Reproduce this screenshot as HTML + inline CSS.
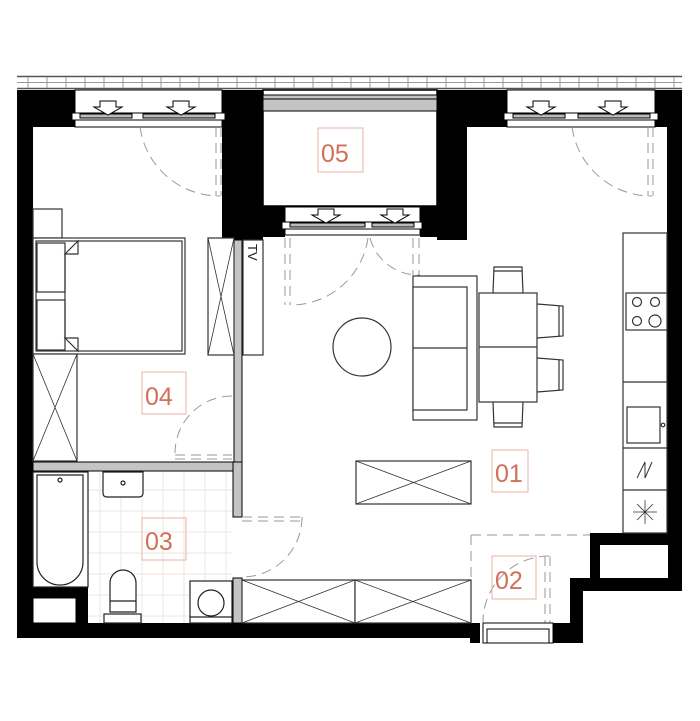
<!DOCTYPE html>
<html><head><meta charset="utf-8"><style>
html,body{margin:0;padding:0;background:#fff;width:700px;height:721px;overflow:hidden}
svg{display:block}
.lbl{font-family:"Liberation Sans",sans-serif;font-size:25px;fill:#d0705a}
</style></head><body>
<svg width="700" height="721" viewBox="0 0 700 721" xmlns="http://www.w3.org/2000/svg">
<!-- railing -->
<g stroke="#555" stroke-width="1" fill="none">
<line x1="17" y1="76.5" x2="682" y2="76.5" stroke-width="1.5"/>
<line x1="17" y1="82.5" x2="682" y2="82.5" stroke="#999"/>
<line x1="17" y1="88.5" x2="682" y2="88.5" stroke-width="1.5"/>
</g>
<g stroke="#999" stroke-width="1">
<path d="M28 77V88M47 77V88M66 77V88M85 77V88M104 77V88M123 77V88M142 77V88M161 77V88M180 77V88M199 77V88M218 77V88M237 77V88M256 77V88M275 77V88M294 77V88M313 77V88M332 77V88M351 77V88M370 77V88M389 77V88M408 77V88M427 77V88M446 77V88M465 77V88M484 77V88M503 77V88M522 77V88M541 77V88M560 77V88M579 77V88M598 77V88M617 77V88M636 77V88M655 77V88M674 77V88"/>
</g>
<!-- bath tiles -->
<g stroke="#f1e4dc" stroke-width="1">
<path d="M100 472V623M121 472V623M142 472V623M163 472V623M184 472V623M205 472V623M226 472V623"/>
<path d="M88 490H232M88 511H232M88 532H232M88 553H232M88 574H232M88 595H232M88 616H232"/>
</g>
<!-- black walls -->
<g fill="#000">
<rect x="17" y="90" width="16" height="548"/>
<rect x="17" y="90" width="58" height="37"/>
<rect x="17" y="623" width="453" height="15"/>
<rect x="222" y="90" width="41" height="150"/>
<rect x="250" y="206" width="35" height="31"/>
<rect x="437" y="90" width="30" height="150"/>
<rect x="420" y="206" width="20" height="31"/>
<rect x="467" y="90" width="40" height="37"/>
<rect x="655" y="90" width="27" height="37"/>
<rect x="667" y="90" width="15" height="455"/>
<rect x="590" y="533" width="92" height="12"/>
<rect x="590" y="533" width="10" height="47"/>
<rect x="668" y="533" width="14" height="47"/>
<rect x="570" y="578" width="112" height="13"/>
<rect x="570" y="578" width="13" height="65"/>
<rect x="553" y="623" width="30" height="20"/>
<rect x="470" y="623" width="10" height="20"/>
<rect x="33" y="587" width="55" height="36"/>
</g>
<rect x="33" y="598" width="43" height="25" fill="#fff" stroke="#000" stroke-width="1"/>
<!-- gray inner walls -->
<g fill="#c4c4c4" stroke="#000" stroke-width="1">
<rect x="234" y="240" width="8" height="225"/>
<rect x="33" y="462" width="209" height="9"/>
<rect x="233" y="462" width="9" height="55"/>
<rect x="233" y="578" width="9" height="45"/>
</g>
<!-- balcony 05 -->
<rect x="263" y="90" width="174" height="116" fill="#fff" stroke="#000" stroke-width="1.5"/>
<rect x="263" y="95" width="174" height="16" fill="#c4c4c4" stroke="#000" stroke-width="1"/>
<line x1="263" y1="99" x2="437" y2="99" stroke="#000"/>
<!-- windows -->
<g stroke="#000" stroke-width="1" fill="#fff">
<rect x="75" y="90" width="147" height="37"/>
<rect x="72" y="113" width="153" height="7"/>
<rect x="80" y="114" width="52" height="4" fill="#bbb"/>
<rect x="143" y="114" width="72" height="4" fill="#bbb"/>
<rect x="285" y="207" width="135" height="28"/>
<rect x="282" y="222" width="140" height="7"/>
<rect x="290" y="223" width="75" height="4" fill="#bbb"/>
<rect x="372" y="223" width="42" height="4" fill="#bbb"/>
<rect x="507" y="90" width="148" height="37"/>
<rect x="504" y="113" width="154" height="7"/>
<rect x="513" y="114" width="52" height="4" fill="#bbb"/>
<rect x="578" y="114" width="72" height="4" fill="#bbb"/>
</g>
<g fill="#fff" stroke="#000" stroke-width="1">
<path d="M100 101h16v6h6l-14 8-14-8h6z"/>
<path d="M173 101h16v6h6l-14 8-14-8h6z"/>
<path d="M318 209h16v6h6l-14 8-14-8h6z"/>
<path d="M387 209h16v6h6l-14 8-14-8h6z"/>
<path d="M533 101h16v6h6l-14 8-14-8h6z"/>
<path d="M605 101h16v6h6l-14 8-14-8h6z"/>
</g>
<!-- door swings -->
<g stroke="#999" stroke-width="1" fill="none" stroke-dasharray="10,6">
<path d="M140 127 A80 80 0 0 0 220 196"/>
<path d="M216 127V196M221 127V196"/>
<path d="M572 127 A80 80 0 0 0 652 196"/>
<path d="M648 127V196M653 127V196"/>
<path d="M368 238 A78 78 0 0 1 290 305"/>
<path d="M285 238V305M290 238V305"/>
<path d="M370 238 A50 50 0 0 0 420 275"/>
<path d="M413 238V275M419 238V275"/>
<path d="M232 396 A57 57 0 0 0 175 453"/>
<path d="M175 455H232M175 459H232"/>
<path d="M242 517H302M242 521H302"/>
<path d="M302 517 A60 60 0 0 1 242 577"/>
<path d="M471 535H590M471 535V623"/>
<path d="M549 556 A66 66 0 0 0 483 622"/>
<path d="M545 556V623M550 556V623"/>
</g>
<!-- entry door frame -->
<g stroke="#000" stroke-width="1" fill="none">
<rect x="483" y="623" width="70" height="20"/>
<rect x="487" y="629" width="62" height="14"/>
</g>
<!-- bedroom furniture -->
<g stroke="#333" stroke-width="1.2" fill="#fff">
<rect x="33" y="209" width="29" height="29"/>
<rect x="33" y="238" width="152" height="116"/>
<rect x="36" y="241" width="146" height="110" fill="none"/>
<rect x="37" y="243" width="28" height="49"/>
<rect x="37" y="300" width="28" height="50"/>
<path d="M65 254 L78 241 V254 Z M65 338 L78 351 V338 Z M65 254 V338" fill="none"/>
<rect x="33" y="354" width="44" height="107"/>
<path d="M33 354 L77 461 M77 354 L33 461" fill="none" stroke-width="0.8"/>
<rect x="208" y="238" width="26" height="117"/>
<path d="M208 238 L234 355 M234 238 L208 355" fill="none" stroke-width="0.8"/>
<rect x="243" y="240" width="20" height="115"/>
</g>
<text x="0" y="0" transform="translate(248,244) rotate(90)" font-family="Liberation Sans,sans-serif" font-size="13" fill="#222">TV</text>
<!-- living furniture -->
<g stroke="#333" stroke-width="1.2" fill="#fff">
<circle cx="362" cy="347" r="29"/>
<rect x="413" y="276" width="64" height="144"/>
<rect x="413" y="287" width="54" height="123"/>
<line x1="413" y1="348" x2="467" y2="348"/>
<path d="M493 293 L494 267 H522 L523 293 M494 271H522"/>
<path d="M493 402 L494 427 H522 L523 402 M494 423H522"/>
<path d="M537 304 L563 306 V336 L537 338 M559 306V336"/>
<path d="M537 358 L563 360 V390 L537 392 M559 360V390"/>
<rect x="479" y="293" width="58" height="109"/>
<line x1="479" y1="347" x2="537" y2="347"/>
<rect x="356" y="461" width="115" height="43"/>
<path d="M356 461 L471 504 M471 461 L356 504" fill="none" stroke-width="0.8"/>
<rect x="242" y="580" width="113" height="43"/>
<rect x="355" y="580" width="116" height="43"/>
<path d="M242 580 L355 623 M355 580 L242 623 M355 580 L471 623 M471 580 L355 623" fill="none" stroke-width="0.8"/>
</g>
<!-- kitchen -->
<g stroke="#333" stroke-width="1.2" fill="#fff">
<rect x="623" y="233" width="44" height="300"/>
<rect x="626" y="293" width="41" height="37"/>
<circle cx="637" cy="302" r="4.5" fill="none"/><circle cx="655" cy="302" r="4.5" fill="none"/>
<circle cx="637" cy="321" r="4.5" fill="none"/><circle cx="655" cy="321" r="6" fill="none"/>
<line x1="623" y1="382" x2="667" y2="382"/>
<rect x="627" y="407" width="33" height="36"/>
<circle cx="663" cy="425" r="1.8"/>
<line x1="623" y1="448" x2="667" y2="448"/>
<line x1="623" y1="490" x2="667" y2="490"/>
<path d="M637 478 L645 462 V478 L652 462" fill="none" stroke-width="1"/>
<path d="M645 500V524M633 512H657M637 504L653 520M653 504L637 520" fill="none" stroke-width="0.8"/>
</g>
<!-- bathroom -->
<g stroke="#222" stroke-width="1.2" fill="#fff">
<rect x="33" y="472" width="55" height="115" fill="none"/>
<path d="M37 475 H83 V562 A23 23 0 0 1 37 562 Z"/>
<circle cx="60" cy="480" r="2" fill="none"/>
<path d="M103 472 H143 V493 Q143 497 139 497 H107 Q103 497 103 493 Z"/>
<circle cx="123" cy="483" r="2" fill="none"/>
<path d="M110 612 V583 A13 13 0 0 1 136 583 V612 Z"/>
<line x1="110" y1="601" x2="136" y2="601"/>
<rect x="104" y="614" width="37" height="9"/>
<rect x="190" y="581" width="42" height="42"/>
<line x1="190" y1="617" x2="232" y2="617"/>
<circle cx="211" cy="603" r="13" fill="none"/>
</g>
<!-- labels -->
<g fill="none" stroke="#eab3a5" stroke-width="1">
<rect x="318" y="128" width="45" height="44"/>
<rect x="142" y="372" width="44" height="42"/>
<rect x="142" y="518" width="44" height="42"/>
<rect x="492" y="450" width="36" height="42"/>
<rect x="492" y="556" width="44" height="43"/>
</g>
<text class="lbl" x="321" y="162">05</text>
<text class="lbl" x="145" y="405">04</text>
<text class="lbl" x="145" y="550">03</text>
<text class="lbl" x="495" y="482">01</text>
<text class="lbl" x="495" y="589">02</text>
</svg>
</body></html>
